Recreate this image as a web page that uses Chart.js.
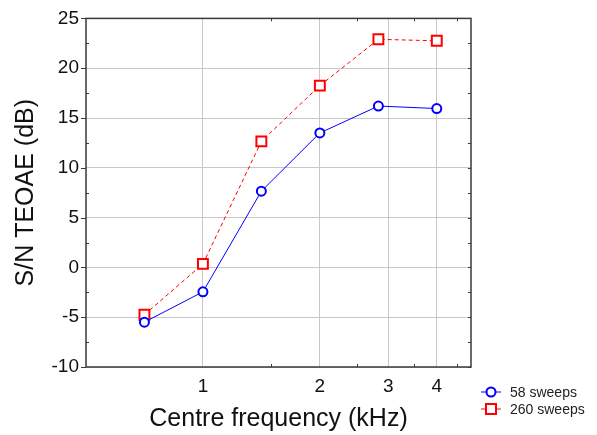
<!DOCTYPE html>
<html>
<head>
<meta charset="utf-8">
<script src="https://cdn.jsdelivr.net/npm/chart.js@4"></script>
<style>
  html, body { margin: 0; padding: 0; background: #fff; }
  #wrap { width: 597px; height: 435px; }
</style>
</head>
<body>
<div id="wrap"><canvas id="chart" width="597" height="435"></canvas></div>
<script>
// centre frequencies (kHz), half-octave steps
const freqs = [0.707, 1, 1.414, 2, 2.83, 4];
const sweeps58 = [-5.5, -2.45, 7.65, 13.5, 16.2, 15.95];
const sweeps260 = [-4.75, 0.35, 12.65, 18.25, 22.9, 22.75];

const xTicks = [1, 2, 3, 4];
const xMinorTicks = [1.5, 2.5, 3.5, 4.5];
const yMinorTicks = [-7.5, -2.5, 2.5, 7.5, 12.5, 17.5, 22.5];

const FONT = "'Liberation Sans', Arial, sans-serif";

function toPoints(ys) {
    return freqs.map((f, i) => ({ x: f, y: ys[i] }));
}

// frame, minor ticks and the legend
const framePlugin = {
    id: "frame",
    afterDraw(chart) {
        const ctx = chart.ctx;
        const a = chart.chartArea;
        const xs = chart.scales.x, ys = chart.scales.y;
        ctx.save();
        ctx.strokeStyle = "#3a3a3a";
        ctx.lineWidth = 1;
        ctx.beginPath();
        for (const v of xMinorTicks) {
            const px = Math.round(xs.getPixelForValue(v)) + 0.5;
            ctx.moveTo(px, a.top); ctx.lineTo(px, a.top + 3);
            ctx.moveTo(px, a.bottom); ctx.lineTo(px, a.bottom - 3);
        }
        for (const v of yMinorTicks) {
            const py = Math.round(ys.getPixelForValue(v)) + 0.5;
            ctx.moveTo(a.left, py); ctx.lineTo(a.left + 3, py);
            ctx.moveTo(a.right, py); ctx.lineTo(a.right - 3, py);
        }
        for (const t of ys.ticks) {
            const py = Math.round(ys.getPixelForValue(t.value)) + 0.5;
            ctx.moveTo(a.left - 5, py); ctx.lineTo(a.left, py);
            ctx.moveTo(a.right, py); ctx.lineTo(a.right - 3, py);
        }
        ctx.stroke();
        ctx.lineWidth = 1.5;
        ctx.strokeRect(a.left, a.top, a.right - a.left, a.bottom - a.top);

        // legend
        ctx.font = "14px " + FONT;
        ctx.textBaseline = "middle";
        ctx.textAlign = "left";
        chart.data.datasets.forEach((ds, i) => {
            const y = 392 + i * 17;
            ctx.strokeStyle = ds.borderColor;
            ctx.lineWidth = 1;
            ctx.setLineDash([]);
            ctx.beginPath();
            ctx.moveTo(481, y); ctx.lineTo(501, y);
            ctx.stroke();
            ctx.lineWidth = 2;
            ctx.fillStyle = "#fff";
            ctx.beginPath();
            if (ds.pointStyle === "rect") {
                ctx.rect(486, y - 5, 10, 10);
            } else {
                ctx.arc(491, y, 4.5, 0, Math.PI * 2);
            }
            ctx.fill();
            ctx.stroke();
            ctx.fillStyle = "#222";
            ctx.fillText(ds.label, 510, y + 1);
        });
        ctx.restore();
    }
};

new Chart(document.getElementById("chart").getContext("2d"), {
    type: "line",
    data: {
        datasets: [
            {
                label: "58 sweeps",
                data: toPoints(sweeps58),
                borderColor: "#0000ff",
                backgroundColor: "#ffffff",
                borderWidth: 1,
                pointStyle: "circle",
                pointRadius: 4.5,
                pointBorderWidth: 2,
                tension: 0
            },
            {
                label: "260 sweeps",
                data: toPoints(sweeps260),
                borderColor: "#ff0000",
                backgroundColor: "#ffffff",
                borderWidth: 1,
                borderDash: [4, 3],
                pointStyle: "rect",
                pointRadius: 7,
                pointBorderWidth: 2,
                tension: 0
            }
        ]
    },
    options: {
        responsive: false,
        animation: false,
        devicePixelRatio: 1,
        layout: { padding: { top: 16, right: 126, left: 0, bottom: 0 } },
        plugins: {
            legend: { display: false },
            tooltip: { enabled: false }
        },
        scales: {
            x: {
                type: "logarithmic",
                min: 0.5,
                max: 4.9,
                afterBuildTicks(scale) {
                    scale.ticks = xTicks.map(v => ({ value: v }));
                },
                afterFit(scale) { scale.height = 68; },
                ticks: {
                    color: "#111",
                    font: { family: FONT, size: 19 },
                    padding: 8,
                    maxRotation: 0,
                    autoSkip: false,
                    callback: v => String(v)
                },
                grid: { color: "#c8c8c8", lineWidth: 1, drawTicks: false },
                border: { display: false },
                title: {
                    display: true,
                    text: "Centre frequency (kHz)",
                    color: "#111",
                    font: { family: FONT, size: 25 },
                    padding: { top: 0, bottom: 1 }
                }
            },
            y: {
                min: -10,
                max: 25,
                afterFit(scale) { scale.width = 86; },
                ticks: {
                    stepSize: 5,
                    color: "#111",
                    font: { family: FONT, size: 19 },
                    padding: 7
                },
                grid: { color: "#c8c8c8", lineWidth: 1, drawTicks: false },
                border: { display: false },
                title: {
                    display: true,
                    text: "S/N TEOAE (dB)",
                    color: "#111",
                    font: { family: FONT, size: 25 },
                    padding: { top: 11, bottom: 0 }
                }
            }
        }
    },
    plugins: [framePlugin]
});
</script>
</body>
</html>
